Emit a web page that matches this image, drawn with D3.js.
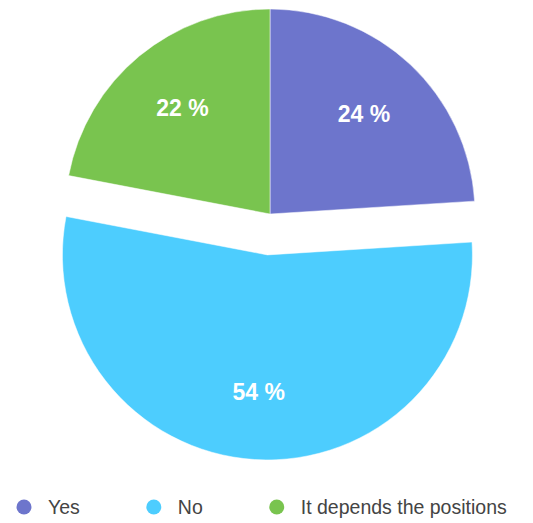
<!DOCTYPE html>
<html>
<head>
<meta charset="utf-8">
<script src="https://cdn.jsdelivr.net/npm/d3@7"></script>
<style>
  body { margin: 0; background: #fff; }
  svg { display: block; font-family: "Liberation Sans", Arial, Helvetica, sans-serif; }
</style>
</head>
<body>
<svg id="chart" width="533" height="523"></svg>
<script>
const categories = ["Yes", "No", "It depends the positions"];
const shares = [24, 54, 22];
const colors = ["#6d75cc", "#4dcdfe", "#79c44f"];
const exploded = [false, true, false];

const svg = d3.select("svg#chart");

const cx = 270, cy = 214, radius = 205, explode = 41;

const pie = d3.pie().sort(null).value(d => d.value);
const arc = d3.arc().innerRadius(0).outerRadius(radius);
const labelArc = d3.arc().innerRadius(radius * 0.67).outerRadius(radius * 0.67);

const data = categories.map((name, i) => ({ name, value: shares[i], color: colors[i], exploded: exploded[i] }));
const arcs = pie(data);

const offset = (a) => {
    if (!a.data.exploded) return [0, 0];
    const mid = (a.startAngle + a.endAngle) / 2;
    return [Math.sin(mid) * explode, -Math.cos(mid) * explode];
};

const slices = svg.append("g").attr("transform", `translate(${cx},${cy})`)
    .selectAll("g.slice")
    .data(arcs)
    .enter().append("g")
    .attr("class", "slice")
    .attr("transform", a => `translate(${offset(a)[0]},${offset(a)[1]})`);

slices.append("path")
    .attr("d", arc)
    .attr("fill", a => a.data.color)
    .attr("stroke", "#fff")
    .attr("stroke-width", 0.5);

slices.append("text")
    .attr("transform", a => `translate(${labelArc.centroid(a)})`)
    .attr("text-anchor", "middle")
    .attr("dy", "0.36em")
    .attr("fill", "#fff")
    .attr("font-size", 23)
    .attr("font-weight", "bold")
    .text(a => a.data.value + " %");

// legend
const legend = svg.append("g").attr("transform", "translate(24,507)");
let lx = 0;
data.forEach(d => {
    const item = legend.append("g").attr("transform", `translate(${lx},0)`);
    item.append("circle").attr("r", 7.5).attr("fill", d.color);
    const t = item.append("text")
        .attr("x", 24)
        .attr("dy", "0.36em")
        .attr("font-size", 19.5)
        .attr("fill", "#444")
        .text(d.name);
    lx += 24 + t.node().getComputedTextLength() + 74;
});
</script>
</body>
</html>
